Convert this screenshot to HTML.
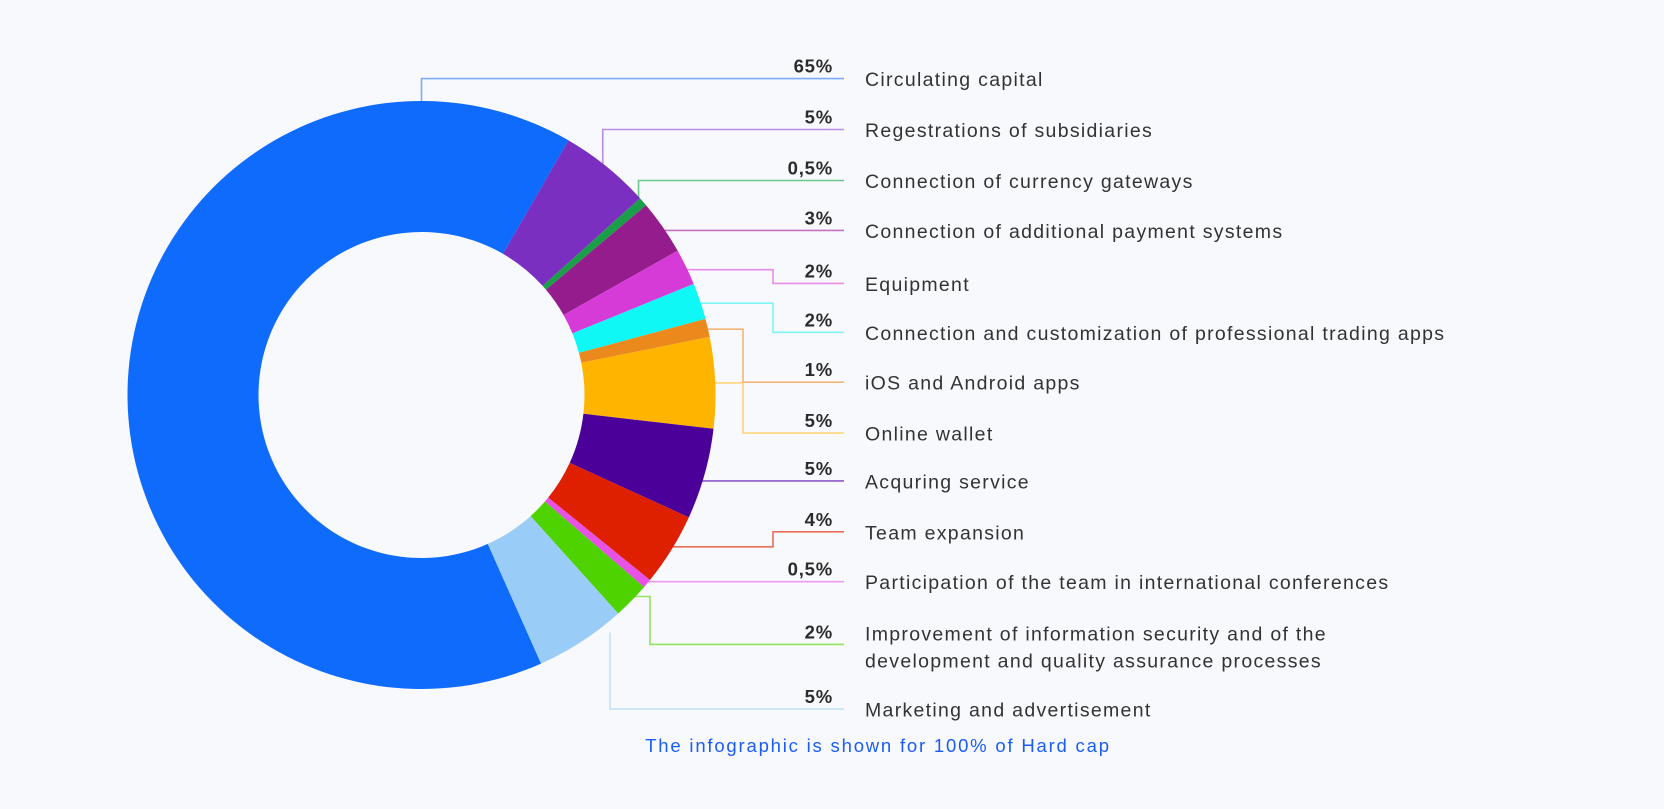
<!DOCTYPE html>
<html><head><meta charset="utf-8">
<style>
html,body{margin:0;padding:0;background:#f8f9fd;}
svg{display:block;}
text{font-family:"Liberation Sans",sans-serif;}
</style></head>
<body>
<svg id="chart" width="1664" height="809" viewBox="0 0 1664 809">
<rect width="1664" height="809" fill="#f8f9fd"/>
<g id="slices"></g>
<g id="leaders"></g>
<g id="labels"></g>
<text x="878" y="752" text-anchor="middle" font-size="18.5" letter-spacing="1.8" fill="#1a5cf5">The infographic is shown for 100% of Hard cap</text>
</svg>
<script>
const categories = ["Circulating capital","Regestrations of subsidiaries","Connection of currency gateways","Connection of additional payment systems","Equipment","Connection and customization of professional trading apps","iOS and Android apps","Online wallet","Acquring service","Team expansion","Participation of the team in international conferences","Improvement of information security and of the|development and quality assurance processes","Marketing and advertisement"];
const values = [65,5,0.5,3,2,2,1,5,5,4,0.5,2,5];
const valueLabels = ["65%","5%","0,5%","3%","2%","2%","1%","5%","5%","4%","0,5%","2%","5%"];
const colors = ["#0f6bfc","#7b2fc0","#1a9e48","#951c8c","#d63bd8","#10f8f6","#ec891d","#ffb400","#4b0099","#de1f00","#e851e6","#4ed300","#99cdf8"];
const lineColors = ["#7eaafc","#b98ee6","#6cc78b","#c472c0","#e88be9","#7ff6f4","#f3b675","#ffd57a","#8e5bcc","#ea6e5a","#f099ee","#92e35e","#c4e1fa"];
const rowY = [78.6,129.5,180.5,230.4,283.4,332.3,382.2,433.1,480.9,531.8,581.7,644.4,709.1];
const leaderMode = ["top","v","v","h","h","h","h","h","h","h","h","h","vx"];
const elbowX = [0,0,0,0,773,773,743,743,0,773,0,650,610];

const CX=421.5, CY=395, R=294, RI=163, START=156;
const NS="http://www.w3.org/2000/svg";
const total = values.reduce((a,b)=>a+b,0);
function pt(angDeg,r){const a=angDeg*Math.PI/180;return [CX+r*Math.sin(a),CY-r*Math.cos(a)];}
function angleOf(v){return v/total*360;}

const gS=document.getElementById('slices'), gL=document.getElementById('leaders'), gT=document.getElementById('labels');
let ang=START;
const LINE_END=844, PCT_X=833, LABEL_X=865;
values.forEach((v,i)=>{
  const a0=ang, a1=ang+angleOf(v); ang=a1;
  const p0=pt(a0,R),p1=pt(a1,R),q1=pt(a1,RI),q0=pt(a0,RI);
  const large=(a1-a0)>180?1:0;
  const path=document.createElementNS(NS,'path');
  path.setAttribute('d',`M${p0[0]},${p0[1]} A${R},${R} 0 ${large} 1 ${p1[0]},${p1[1]} L${q1[0]},${q1[1]} A${RI},${RI} 0 ${large} 0 ${q0[0]},${q0[1]} Z`);
  path.setAttribute('fill',colors[i]);
  
  
  gS.appendChild(path);

  const mid=(a0+a1)/2;
  let d;
  const y=rowY[i];
  if(leaderMode[i]==="top"){const p=pt(0,R);d=`M${p[0]},${p[1]} V${y} H${LINE_END}`;}
  else if(leaderMode[i]==="v"){const p=pt(mid,R-6);d=`M${p[0]},${p[1]} V${y} H${LINE_END}`;}
  else if(leaderMode[i]==="vx"){const p=pt(mid,R-6);d=`M${elbowX[i]},${p[1]-4} V${y} H${LINE_END}`;}
  else{const p=pt(mid,R-6);d=elbowX[i]?`M${p[0]},${p[1]} H${elbowX[i]} V${y} H${LINE_END}`:`M${p[0]},${p[1]} V${y} H${LINE_END}`;}
  const ln=document.createElementNS(NS,'path');
  ln.setAttribute('d',d);ln.setAttribute('fill','none');ln.setAttribute('stroke',lineColors[i]);ln.setAttribute('stroke-width','1.6');
  
  
  gL.insertBefore(ln,gL.firstChild);

  const pct=document.createElementNS(NS,'text');
  pct.setAttribute('x',PCT_X);pct.setAttribute('y',y-6);pct.setAttribute('text-anchor','end');
  pct.setAttribute('font-size','18.5');pct.setAttribute('font-weight','bold');pct.setAttribute('letter-spacing','0.8');pct.setAttribute('fill','#2b2b2b');
  pct.textContent=valueLabels[i];
  
  
  gT.appendChild(pct);

  const parts=categories[i].split('|');
  parts.forEach((s,k)=>{
    const t=document.createElementNS(NS,'text');
    const by = parts.length>1 ? y-4+k*27 : y+7.5;
    t.setAttribute('x',LABEL_X);t.setAttribute('y',by);
    t.setAttribute('font-size','19.5');t.setAttribute('letter-spacing','1.3');t.setAttribute('fill','#333');
    t.textContent=s;
    
    
    gT.appendChild(t);
  });
});
gS.parentNode.insertBefore(gL,gS);
</script>
</body></html>
